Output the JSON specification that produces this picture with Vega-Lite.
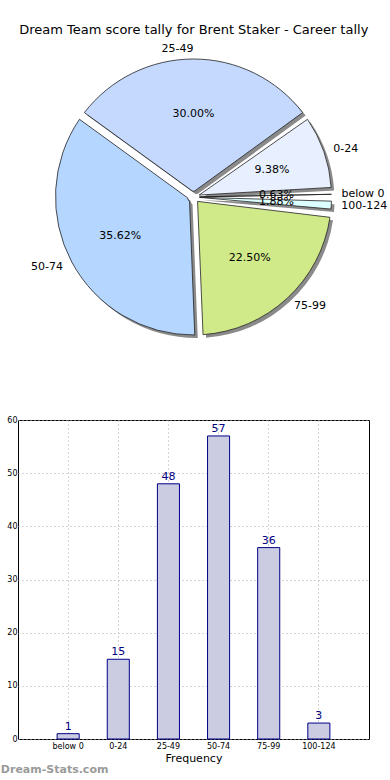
{
  "$schema": "https://vega.github.io/schema/vega-lite/v6.json",
  "padding": {"top": 24, "left": 0, "right": 0, "bottom": 0},
  "title": {"text": "Dream Team score tally for Brent Staker - Career tally", "fontSize": 13, "font": "DejaVu Sans", "fontWeight": "normal", "color": "black", "offset": 0, "anchor": "middle"},
  "config": {
    "font": "DejaVu Sans",
    "view": {"stroke": "black", "strokeWidth": 1}
  },
  "data": {"values": [
    {"cat": "below 0", "n": 1, "pct": "0.63%", "i": 0},
    {"cat": "0-24", "n": 15, "pct": "9.38%", "i": 1},
    {"cat": "25-49", "n": 48, "pct": "30.00%", "i": 2},
    {"cat": "50-74", "n": 57, "pct": "35.62%", "i": 3},
    {"cat": "75-99", "n": 36, "pct": "22.50%", "i": 4},
    {"cat": "100-124", "n": 3, "pct": "1.88%", "i": 5}
  ]},
  "bounds": "flush",
  "spacing": 63,
  "vconcat": [
    {
      "width": 351,
      "height": 320,
      "view": {"stroke": null},
      "encoding": {
        "theta": {"field": "n", "type": "quantitative", "stack": true, "scale": {"range": [1.5708, -4.7124]}},
        "order": {"field": "i", "type": "quantitative"}
      },
      "layer": [
        {"mark": {"type": "arc", "outerRadius": 138, "innerRadius": 6, "padAngle": 0.06, "color": "#8a8a8a", "xOffset": 3, "yOffset": 3}},
        {"mark": {"type": "arc", "outerRadius": 138, "innerRadius": 6, "padAngle": 0.06, "stroke": "#222222", "strokeWidth": 0.8},
         "encoding": {"color": {"field": "cat", "type": "nominal", "legend": null,
           "scale": {"domain": ["below 0", "0-24", "25-49", "50-74", "75-99", "100-124"],
                     "range": ["#ffffff", "#e8effe", "#c5d9fe", "#b4d6ff", "#d0ea8a", "#dcffff"]}}}},
        {"mark": {"type": "text", "radius": 83, "fontSize": 11, "color": "black"},
         "encoding": {"text": {"field": "pct"}}},
        {"mark": {"type": "text", "radius": 148, "fontSize": 11, "color": "black", "align": "left", "baseline": "middle"},
         "encoding": {"text": {"condition": {"test": "datum.cat !== '25-49' && datum.cat !== '50-74'", "field": "cat"}, "value": ""}}},
        {"mark": {"type": "text", "radius": 148, "fontSize": 11, "color": "black", "align": "right", "baseline": "middle"},
         "encoding": {"text": {"condition": {"test": "datum.cat === '25-49' || datum.cat === '50-74'", "field": "cat"}, "value": ""}}}
      ]
    },
    {
      "width": 351,
      "height": 319,
      "title": {"text": "Dream-Stats.com", "orient": "bottom", "anchor": "start", "frame": "bounds", "fontSize": 11, "fontWeight": "bold", "color": "#9a9a9a", "offset": 1, "dx": -6},
      "encoding": {
        "x": {"field": "cat", "type": "nominal", "sort": ["below 0", "0-24", "25-49", "50-74", "75-99", "100-124"],
              "scale": {"paddingInner": 0.56, "paddingOuter": 0.78},
              "axis": {"labelAngle": 0, "title": "Frequency", "titleFontSize": 11, "titleFontWeight": "normal", "titleColor": "black", "titlePadding": 2,
                       "labelFontSize": 8, "labelColor": "black", "bandPosition": 0.5, "grid": true, "gridDash": [1, 3], "gridColor": "#aaaaaa",
                       "domain": false, "ticks": false, "labelPadding": 3}},
        "y": {"field": "n", "type": "quantitative", "scale": {"domain": [0, 60], "nice": false},
              "axis": {"title": null, "values": [0, 10, 20, 30, 40, 50, 60], "labelFontSize": 8, "labelColor": "black", "grid": true, "gridDash": [1, 3], "gridColor": "#aaaaaa",
                       "domain": false, "ticks": false, "labelPadding": 1}}
      },
      "layer": [
        {"mark": {"type": "bar", "fill": "#cbcbe2", "stroke": "#000088", "strokeWidth": 1}},
        {"mark": {"type": "text", "fontSize": 11, "color": "#000080", "baseline": "bottom", "dy": -2},
         "encoding": {"text": {"field": "n", "type": "quantitative"}}}
      ]
    }
  ]
}
